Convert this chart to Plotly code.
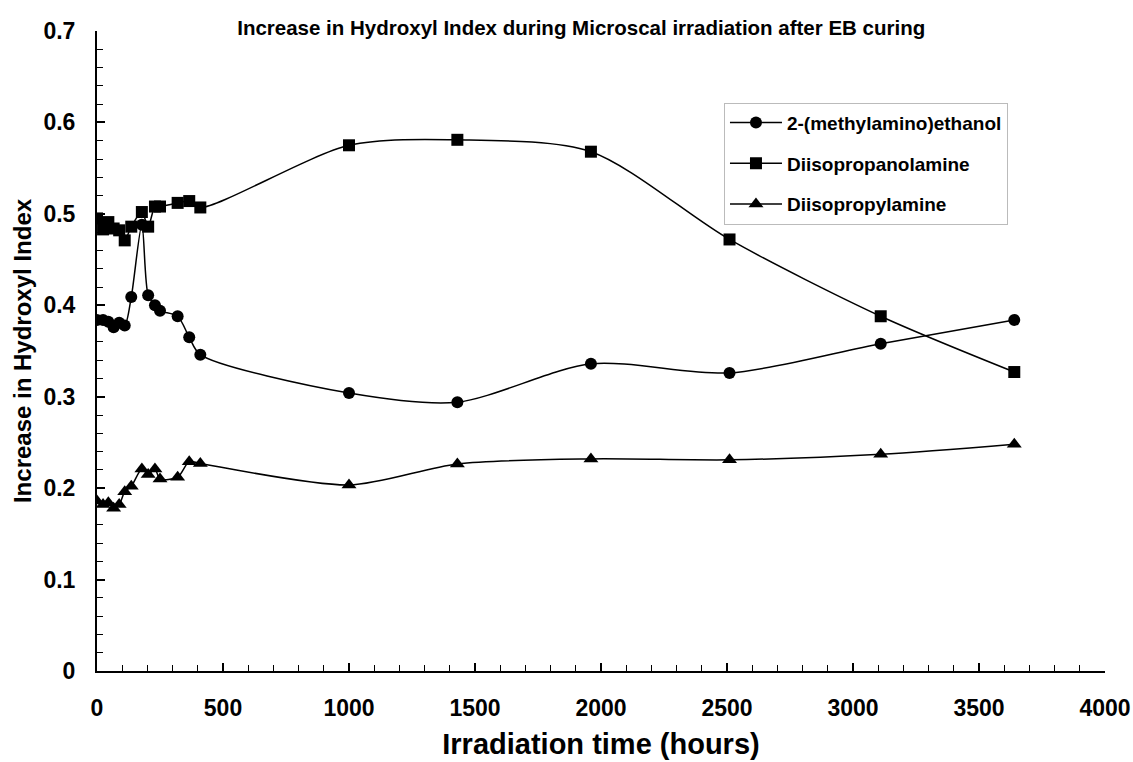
import plotly.graph_objects as go

# Irradiation time (hours)
time_h = [0, 24, 45, 66, 88, 110, 136, 178, 203, 230, 250, 320, 366, 410,
          1000, 1430, 1960, 2510, 3110, 3640]

methylaminoethanol = [0.384, 0.384, 0.382, 0.376, 0.381, 0.378, 0.409, 0.488, 0.411, 0.400,
                      0.394, 0.388, 0.365, 0.346, 0.304, 0.294, 0.336, 0.326, 0.358, 0.384]
diisopropanolamine = [0.495, 0.483, 0.491, 0.484, 0.482, 0.471, 0.486, 0.502, 0.486, 0.508,
                      0.508, 0.512, 0.514, 0.507, 0.575, 0.581, 0.568, 0.472, 0.388, 0.327]
diisopropylamine = [0.186, 0.182, 0.184, 0.178, 0.182, 0.196, 0.202, 0.221, 0.215, 0.221,
                    0.210, 0.212, 0.229, 0.227, 0.2035, 0.2265, 0.232, 0.231, 0.237, 0.248]

series_names = ["2-(methylamino)ethanol", "Diisopropanolamine", "Diisopropylamine"]
x_ticks = [0, 500, 1000, 1500, 2000, 2500, 3000, 3500, 4000]
y_ticks = [0, 0.1, 0.2, 0.3, 0.4, 0.5, 0.6, 0.7]
y_tick_text = ["0", "0.1", "0.2", "0.3", "0.4", "0.5", "0.6", "0.7"]

series = [
    (series_names[0], methylaminoethanol, "circle", 12),
    (series_names[1], diisopropanolamine, "square", 12),
    (series_names[2], diisopropylamine, "triangle-up", 13),
]

FONT = "Liberation Sans"

fig = go.Figure()
for i, (name, vals, sym, size) in enumerate(series):
    fig.add_trace(go.Scatter(
        x=time_h, y=vals, name=f"<b>{name}</b>", mode="lines+markers",
        line=dict(color="black", width=1.5, shape="spline", smoothing=0.8),
        marker=dict(symbol=sym, size=size, color="black"),
        legendgroup=f"g{i}",
    ))

fig.update_layout(
    width=1133, height=762,
    margin=dict(l=97, r=28, t=31, b=91, autoexpand=False),
    paper_bgcolor="white", plot_bgcolor="white",
    font=dict(family=FONT, color="black"),
    title=dict(text="<b>Increase in Hydroxyl Index during Microscal irradiation after EB curing</b>",
               x=0.513, xanchor="center", y=0.963, yanchor="middle",
               font=dict(size=20.5, family=FONT, color="black")),
    showlegend=True,
    legend=dict(x=0.622, y=0.888, xanchor="left", yanchor="top",
                bordercolor="#bbbbbb", borderwidth=1, bgcolor="white",
                font=dict(size=19, family=FONT, color="black"),
                tracegroupgap=13, itemwidth=52),
)

fig.update_xaxes(
    range=[0, 4000], tickmode="array", tickvals=x_ticks,
    ticktext=[f"<b>{v}</b>" for v in x_ticks],
    automargin=False,
    showgrid=False, zeroline=False,
    showline=True, linecolor="black", linewidth=2,
    ticks="inside", ticklen=8, tickwidth=1.5, tickcolor="black",
    minor=dict(dtick=100, tick0=0, ticks="inside", ticklen=6, tickwidth=1, tickcolor="black"),
    tickfont=dict(size=23, family=FONT, color="black"),
    ticklabelstandoff=15,
    title=dict(text="<b>Irradiation time (hours)</b>", font=dict(size=29, family=FONT, color="black"),
               standoff=14),
)
fig.update_yaxes(
    range=[0, 0.7], tickmode="array", tickvals=y_ticks,
    ticktext=[f"<b>{t}</b>" for t in y_tick_text],
    automargin=False,
    showgrid=False, zeroline=False,
    showline=True, linecolor="black", linewidth=2,
    ticks="inside", ticklen=8, tickwidth=1.5, tickcolor="black",
    minor=dict(dtick=0.02, tick0=0, ticks="inside", ticklen=6, tickwidth=1, tickcolor="black"),
    tickfont=dict(size=23, family=FONT, color="black"),
    ticklabelstandoff=15,
    title=dict(text="<b>Increase in Hydroxyl Index</b>", font=dict(size=24, family=FONT, color="black"),
               standoff=5),
)

fig.write_html("out.html")
